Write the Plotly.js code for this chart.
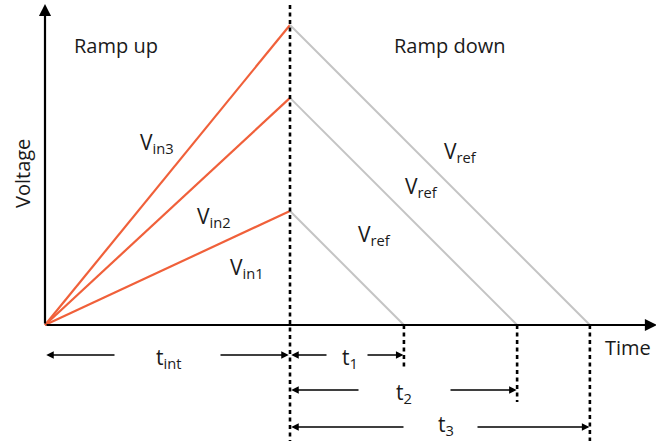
<!DOCTYPE html>
<html><head><meta charset="utf-8">
<script src="https://cdn.plot.ly/plotly-3.0.1.min.js"></script>
<style>html,body{margin:0;padding:0;background:#fff}</style>
</head><body><div id="chart" style="width:656px;height:441px"></div>
<script>
// ---- data (time and voltage units) ----
const tInt = 10;                        // integration time
const vPeaks = [3.8, 7.57, 10];         // peak voltage after ramp up (Vin1, Vin2, Vin3)
const tDown = [4.65, 9.27, 12.24];      // ramp-down time t1, t2, t3
const inLabels = ['V<sub>in1</sub>', 'V<sub>in2</sub>', 'V<sub>in3</sub>'];
const tLabels = ['t<sub>1</sub>', 't<sub>2</sub>', 't<sub>3</sub>'];

// ---- pixel helpers for layout placement ----
const X0 = 45, Y0 = 325, SX = 24.5, SY = 30;
const px = p => (p - X0) / SX;
const py = p => (Y0 - p) / SY;

const FONT = 'Open Sans, Noto Sans, sans-serif';
const orange = '#f0603a', grey = '#c4c4c4';

const traces = [];
// ramp up lines
vPeaks.forEach((v, i) => traces.push({x: [0, tInt], y: [0, v], mode: 'lines',
  line: {color: orange, width: 2.2}, hoverinfo: 'skip'}));
// ramp down lines
vPeaks.forEach((v, i) => traces.push({x: [tInt, tInt + tDown[i]], y: [v, 0], mode: 'lines',
  line: {color: grey, width: 2}, hoverinfo: 'skip'}));
// dashed verticals
const dash = {color: '#000', width: 2.6, dash: '4px,3.5px'};
traces.push({x: [tInt, tInt], y: [py(5), py(441)], mode: 'lines', line: dash, hoverinfo: 'skip'});
const dashBottoms = [368, 402, 441];
tDown.forEach((t, i) => traces.push({x: [tInt + t, tInt + t], y: [0, py(dashBottoms[i])], mode: 'lines', line: dash, hoverinfo: 'skip'}));

const ann = [];
function arrow(x1, y1, x2, y2, w, size) {
  ann.push({x: x2, y: y2, ax: x1, ay: y1, xref: 'x', yref: 'y', axref: 'x', ayref: 'y',
    text: '', showarrow: true, arrowhead: 2, arrowsize: size || 1, arrowwidth: w || 1.5,
    arrowcolor: '#000', standoff: 0, startstandoff: 0});
}
function label(text, x, y, size, opts) {
  ann.push(Object.assign({x: x, y: y, xref: 'x', yref: 'y', text: text, showarrow: false,
    font: {family: FONT, size: size || 20, color: '#1a1a1a'}, xanchor: 'center', yanchor: 'middle'}, opts || {}));
}
// axes
arrow(0, 0, 0, py(4), 2.2, 1.1);
arrow(0, 0, px(657), 0, 2.2, 1.1);
// t_int row
const rowY = [355, 390, 427];
arrow(px(116), py(355), 0.05, py(355));
arrow(px(219), py(355), tInt - 0.05, py(355));
label('t<sub>int</sub>', px(168), py(358), 21);
// t1..t3 rows
const leftEnds = [328, 360, 405], rightStarts = [366, 449, 476], textX = [350, 404, 446];
tDown.forEach((t, i) => {
  arrow(px(leftEnds[i]), py(rowY[i]), tInt + 0.05, py(rowY[i]));
  arrow(px(rightStarts[i]), py(rowY[i]), tInt + t - 0.02, py(rowY[i]));
  label(tLabels[i], px(textX[i]), py(rowY[i] + (i === 2 ? -2 : 3)), 21);
});
// text labels
label('Time', px(628), py(347), 20);
label('Voltage', px(22), py(174), 20, {textangle: -90});
label('Ramp up', px(116), py(45), 20);
label('Ramp down', px(449), py(45), 20);
const inPos = [[247, 268], [214, 217], [157, 143]];
inLabels.forEach((t, i) => label(t, px(inPos[i][0]), py(inPos[i][1]), 21));
const refPos = [[374, 235], [421, 187], [460, 152]];
refPos.forEach(p => label('V<sub>ref</sub>', px(p[0]), py(p[1]), 21));

const ax = {showgrid: false, zeroline: false, showticklabels: false, showline: false, ticks: '', fixedrange: true};
Plotly.newPlot('chart', traces, {
  width: 656, height: 441, margin: {l: 0, r: 0, t: 0, b: 0},
  paper_bgcolor: '#fff', plot_bgcolor: '#fff', showlegend: false,
  xaxis: Object.assign({range: [px(0), px(656)]}, ax),
  yaxis: Object.assign({range: [py(441), py(0)]}, ax),
  annotations: ann
}, {displayModeBar: false, staticPlot: true});
</script></body></html>
